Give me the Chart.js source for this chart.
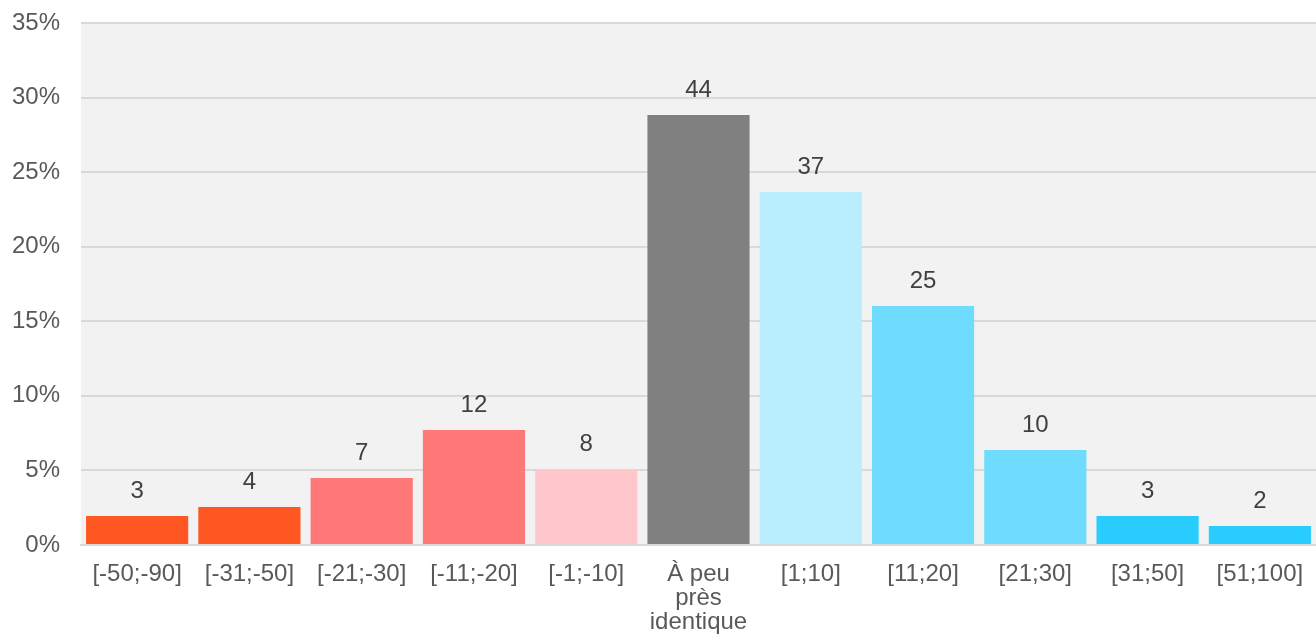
<!DOCTYPE html>
<html>
<head>
<meta charset="utf-8">
<script src="https://cdn.jsdelivr.net/npm/chart.js@4.4.1/dist/chart.umd.min.js"></script>
<style>
html,body{margin:0;padding:0;background:#fff;}
#wrap{width:1316px;height:641px;}
</style>
</head>
<body>
<div id="wrap"><canvas id="c" width="1316" height="641"></canvas></div>
<script>
const categories = ["[-50;-90]","[-31;-50]","[-21;-30]","[-11;-20]","[-1;-10]",["À peu","près","identique"],"[1;10]","[11;20]","[21;30]","[31;50]","[51;100]"];
const percentValues = [1.94, 2.55, 4.49, 7.71, 5.10, 28.83, 23.67, 16.03, 6.37, 1.94, 1.27];
const countLabels = [3, 4, 7, 12, 8, 44, 37, 25, 10, 3, 2];
const barColors = ["#FF5722","#FF5722","#FF7878","#FF7878","#FFC7CC","#808080","#B9EEFF","#6FDCFF","#6FDCFF","#29CCFF","#29CCFF"];
const yTicks = [0,5,10,15,20,25,30,35];

const FONT = "'Liberation Sans', Arial, sans-serif";

const bgPlugin = {
  id: 'bg',
  beforeDraw(chart) {
    const {ctx, chartArea: a} = chart;
    ctx.save();
    ctx.fillStyle = '#F2F2F2';
    ctx.fillRect(a.left, a.top, a.right - a.left, a.bottom - a.top);
    ctx.restore();
  }
};
const labelPlugin = {
  id: 'lbl',
  afterDatasetsDraw(chart) {
    const {ctx} = chart;
    const meta = chart.getDatasetMeta(0);
    ctx.save();
    ctx.font = "24px " + FONT;
    ctx.fillStyle = '#404040';
    ctx.textAlign = 'center';
    ctx.textBaseline = 'middle';
    meta.data.forEach((bar, i) => {
      ctx.fillText(String(countLabels[i]), bar.x, bar.y - 25);
    });
    ctx.restore();
  }
};

function zeroPad(s) { s.paddingTop = 0; s.paddingBottom = 0; s.paddingLeft = 0; s.paddingRight = 0; }

new Chart(document.getElementById('c'), {
  type: 'bar',
  data: {
    labels: categories,
    datasets: [{
      data: percentValues,
      backgroundColor: barColors,
      borderWidth: 0,
      categoryPercentage: 1.0,
      barPercentage: 0.91
    }]
  },
  options: {
    responsive: false,
    animation: false,
    devicePixelRatio: 1,
    layout: {padding: {top: 23, right: 0, bottom: 0, left: 0}},
    plugins: {legend: {display: false}, tooltip: {enabled: false}},
    scales: {
      x: {
        grid: {display: false, drawTicks: false},
        border: {display: true, color: '#D9D9D9', width: 2},
        ticks: {
          color: '#595959',
          font: {family: FONT, size: 24, lineHeight: 1.0},
          padding: 17,
          maxRotation: 0,
          autoSkip: false
        },
        afterFit(s) { s.height = 96; zeroPad(s); }
      },
      y: {
        min: 0, max: 35,
        afterBuildTicks(s) { s.ticks = yTicks.map(v => ({value: v})); },
        grid: {color: '#D9D9D9', lineWidth: 2, drawTicks: false},
        border: {display: false},
        ticks: {
          color: '#595959',
          font: {family: FONT, size: 24},
          padding: 21,
          callback: v => v + '%'
        },
        afterFit(s) { s.width = 81; zeroPad(s); }
      }
    }
  },
  plugins: [bgPlugin, labelPlugin]
});
</script>
</body>
</html>
